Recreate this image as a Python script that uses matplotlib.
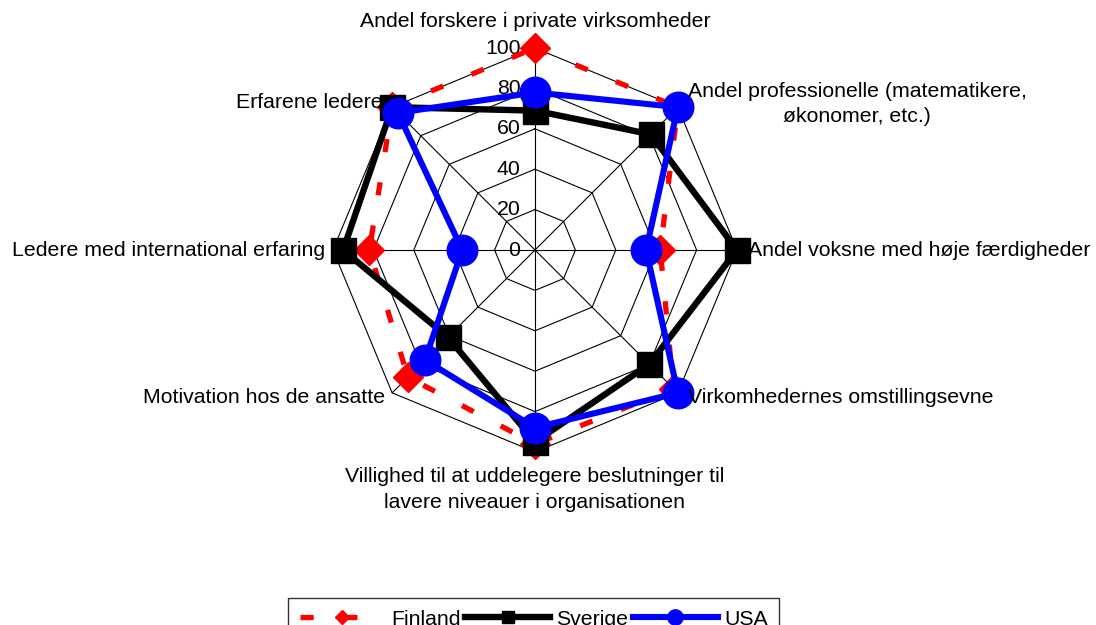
import numpy as np
import matplotlib
matplotlib.use("Agg")
import matplotlib.pyplot as plt

categories = [
    "Andel forskere i private virksomheder",
    "Andel professionelle (matematikere,\nøkonomer, etc.)",
    "Andel voksne med høje færdigheder",
    "Virkomhedernes omstillingsevne",
    "Villighed til at uddelegere beslutninger til\nlavere niveauer i organisationen",
    "Motivation hos de ansatte",
    "Ledere med international erfaring",
    "Erfarene ledere",
]
finland = [100, 100, 62, 97, 96, 89, 82, 100]
sverige = [69, 81, 100, 80, 95, 61, 95, 100]
usa = [78, 100, 55, 100, 88, 77, 36, 96]
ticks = [0, 20, 40, 60, 80, 100]

plt.rcParams['font.family'] = ['Liberation Sans', 'DejaVu Sans']
plt.rcParams['lines.scale_dashes'] = False

W, H = 1096, 625
fig = plt.figure(figsize=(W / 100, H / 100), dpi=100)
ax = fig.add_axes([0, 0, 1, 1])
scale = 2.02  # px per unit
cx, cy = 535, 250
ax.set_xlim(-cx / scale, (W - cx) / scale)
ax.set_ylim(-(H - cy) / scale, cy / scale)
ax.set_aspect('equal')
ax.axis('off')

n = len(categories)
ang = np.arange(n) * 2 * np.pi / n
sx, sy = np.sin(ang), np.cos(ang)

# grid
for t in ticks[1:]:
    xs = np.append(t * sx, t * sx[0])
    ys = np.append(t * sy, t * sy[0])
    ax.plot(xs, ys, color='black', lw=0.8, zorder=1)
for i in range(n):
    ax.plot([0, 100 * sx[i]], [0, 100 * sy[i]], color='black', lw=0.8, zorder=1)

fs = 15.3
for t in ticks:
    ax.text(-7.2, t, str(t), ha='right', va='center', fontsize=fs, zorder=2)

def closed(v):
    v = np.asarray(v, float)
    return np.append(v * sx, v[0] * sx[0]), np.append(v * sy, v[0] * sy[0])

x, y = closed(finland)
l1, = ax.plot(x, y, color='#ff0000', lw=3.8, dashes=(9.5, 22), marker='D', ms=15,
              markevery=list(range(n)), zorder=3, label='Finland')
x, y = closed(sverige)
l2, = ax.plot(x, y, color='black', lw=4.6, marker='s', ms=18, zorder=4, label='Sverige',
              markevery=list(range(n)))
x, y = closed(usa)
l3, = ax.plot(x, y, color='#0000ff', lw=4.4, marker='o', ms=22, zorder=5, label='USA',
              markevery=list(range(n)))

lab_pos = [
    (0, 112.9, 'center', 'center'),
    (159.4, 72.3, 'center', 'center'),
    (105.4, 0, 'left', 'center'),
    (75.7, -72.8, 'left', 'center'),
    (0, -118.6, 'center', 'center'),
    (-74.3, -72.8, 'right', 'center'),
    (-104.0, 0, 'right', 'center'),
    (-75.5, 72.8, 'right', 'center'),
]
for c, (px, py, ha, va) in zip(categories, lab_pos):
    ax.text(px, py, c, ha=ha, va=va, fontsize=fs, multialignment='center',
            linespacing=1.45, zorder=6)

leg = fig.legend(handles=[l1, l2, l3], loc='upper center', bbox_to_anchor=(0.487, 0.0432),
                 ncol=3, fontsize=fs, frameon=True, fancybox=False, edgecolor='black',
                 markerscale=0.5, handlelength=4.0, columnspacing=0.2, handletextpad=0.3,
                 borderpad=0.55, borderaxespad=0)
leg.get_frame().set_linewidth(1.0)

fig.savefig('out.png', dpi=100)
